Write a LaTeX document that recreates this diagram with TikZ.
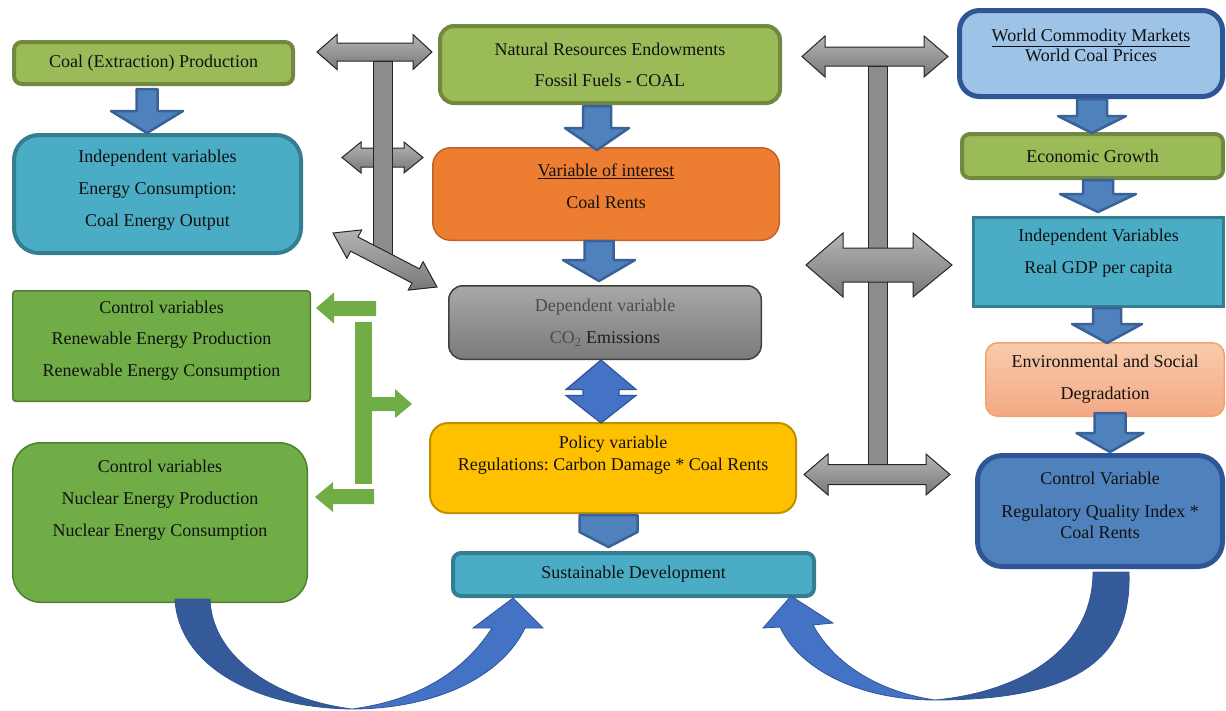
\documentclass[tikz,border=0pt]{standalone}
\usepackage{fontspec}
\setmainfont{Liberation Serif}
\frenchspacing
\usetikzlibrary{calc}
\definecolor{olive}{HTML}{9BBB59}
\definecolor{olived}{HTML}{71893F}
\definecolor{tealc}{HTML}{4BACC6}
\definecolor{teald}{HTML}{357D91}
\definecolor{grn}{HTML}{70AD47}
\definecolor{grnd}{HTML}{507E32}
\definecolor{orng}{HTML}{ED7D31}
\definecolor{orngd}{HTML}{C0622A}
\definecolor{goldc}{HTML}{FFC000}
\definecolor{goldd}{HTML}{BF9000}
\definecolor{ltblue}{HTML}{9DC3E6}
\definecolor{navy}{HTML}{2F5597}
\definecolor{salt}{HTML}{F8CBAD}
\definecolor{salb}{HTML}{F4A984}
\definecolor{sald}{HTML}{F3A26A}
\definecolor{blueb}{HTML}{4F81BD}
\definecolor{bluebd}{HTML}{3A6298}
\definecolor{bluec}{HTML}{4472C4}
\definecolor{bluedark}{HTML}{345A9A}
\definecolor{grayt}{HTML}{A8A8A8}
\definecolor{grayb}{HTML}{7A7A7A}
\definecolor{grayd}{HTML}{404040}
\definecolor{arrt}{HTML}{B4B4B4}
\definecolor{arrb}{HTML}{787878}
\definecolor{txtc}{HTML}{111111}
\newcommand\bdn[6]{\draw[bluearr] ({#1-#5},#2) -- ({#1+#5},#2) -- ({#1+#5},#3) -- ({#1+#6},#3) -- (#1,#4) -- ({#1-#6},#3) -- ({#1-#5},#3) -- cycle;}
\newcommand\hdbl[7]{\draw[grayarr] (#2,#1) -- (#4,{#1-#7}) -- (#4,{#1-#6}) -- (#5,{#1-#6}) -- (#5,{#1-#7}) -- (#3,#1) -- (#5,{#1+#7}) -- (#5,{#1+#6}) -- (#4,{#1+#6}) -- (#4,{#1+#7}) -- cycle;}
\begin{document}
\begin{tikzpicture}[x=1pt,y=-1pt,
  bx/.style={align=center, inner sep=0pt, text=txtc, font=\fontsize{18}{22}\selectfont},
  txt/.style={align=center, inner sep=0pt, text=txtc, font=\fontsize{18}{32}\selectfont},
  txtn/.style={align=center, inner sep=0pt, text=txtc, font=\fontsize{18}{21}\selectfont},
  olivebox/.style={bx, draw=olived, fill=olive, line width=4pt},
  tealbox/.style={bx, draw=teald, fill=tealc, line width=4pt},
  grnbox/.style={bx, draw=grnd, fill=grn, line width=1.5pt},
  bluearr/.style={fill=blueb, draw=bluebd, line width=2.5pt, line join=round},
  grayarr/.style={top color=arrt, bottom color=arrb, draw=black!85, line width=1pt},
  grayv/.style={fill=black!45, draw=black!85, line width=1pt},
  grnarr/.style={fill=grn}]
\useasboundingbox (0,0) rectangle (1226,710);

% ---- boxes ----
\node[olivebox, minimum width=279pt, minimum height=42pt, rounded corners=8pt] (coal) at (153.5,63) {Coal (Extraction) Production};
\node[tealbox, minimum width=287pt, minimum height=118pt, rounded corners=25pt] (indepL) at (157.5,194) {};
\node[txt] (indepL-t) at (157.5,190) {Independent variables\\Energy Consumption:\\Coal Energy Output};
\node[grnbox, minimum width=297.5pt, minimum height=110.5pt, rounded corners=3pt] (ctrlRen) at (161.5,346) {};
\node[txt, font=\fontsize{18}{31.5}\selectfont] (ctrlRen-t) at (161.5,340.5) {Control variables\\Renewable Energy Production\\Renewable Energy Consumption};
\node[grnbox, minimum width=294.5pt, minimum height=159.5pt, rounded corners=28pt] (ctrlNuc) at (160,522.5) {};
\node[txt] (ctrlNuc-t) at (160,500) {Control variables\\Nuclear Energy Production\\Nuclear Energy Consumption};

\node[olivebox, minimum width=340pt, minimum height=77pt, rounded corners=14pt, font=\fontsize{18}{31}\selectfont] (nre) at (610,64.5) {Natural Resources Endowments\\Fossil Fuels - COAL};
\node[bx, draw=orngd, fill=orng, line width=1.5pt, minimum width=346.5pt, minimum height=92.5pt, rounded corners=18pt] (voi) at (606,194) {};
\node[txt] (voi-t) at (606,186) {\underline{Variable of interest}\\Coal Rents};
\node[bx, draw=grayd, top color=grayt, bottom color=grayb, line width=1.5pt, minimum width=312.5pt, minimum height=73.5pt, rounded corners=14pt, text=black!70, font=\fontsize{18}{32}\selectfont] (dep) at (605,322.5) {Dependent variable\\CO\textsubscript{2} {\color{black!88}Emissions}};
\node[bx, draw=goldd, fill=goldc, line width=2pt, minimum width=366pt, minimum height=90pt, rounded corners=18pt] (pol) at (613,468) {};
\node[bx] (pol-t) at (613,455) {Policy variable\\Regulations: Carbon Damage * Coal Rents};
\node[tealbox, minimum width=361pt, minimum height=43pt, rounded corners=8pt] (sd) at (633.5,574.5) {Sustainable Development};

\node[bx, draw=navy, fill=ltblue, line width=5pt, minimum width=263pt, minimum height=86pt, rounded corners=20pt] (wcm) at (1091,53.5) {};
\node[bx, font=\fontsize{18}{20}\selectfont] (wcm-t) at (1091,45) {\underline{World Commodity Markets}\\World Coal Prices};
\node[olivebox, minimum width=261pt, minimum height=44pt, rounded corners=8pt] (eg) at (1092.5,156) {Economic Growth};
\node[bx, draw=teald, fill=tealc, line width=3pt, minimum width=250pt, minimum height=89pt] (ivR) at (1098.5,262) {};
\node[txt] (ivR-t) at (1098.5,253) {Independent Variables\\Real GDP per capita};
\node[bx, draw=sald, top color=salt, bottom color=salb, line width=1.5pt, minimum width=238.5pt, minimum height=73.5pt, rounded corners=12pt, font=\fontsize{18}{32}\selectfont] (env) at (1105,379.5) {Environmental and Social\\Degradation};
\node[bx, draw=navy, fill=blueb, line width=5pt, minimum width=245pt, minimum height=111pt, rounded corners=25pt] (cvR) at (1100,511) {};
\node[txtn] (cvR-t) at (1100,505) {Control Variable\\[12pt]Regulatory Quality Index *\\Coal Rents};

% ---- blue block arrows ----
\bdn{147}{89}{111}{133}{10.5}{36}
\bdn{597}{106}{128}{150}{14}{32}
\bdn{599}{241}{260}{281}{14.5}{36}
\bdn{1092}{99}{116}{133}{15}{34}
\bdn{1098}{180}{194}{212}{15}{38}
\bdn{1107}{308}{324}{343}{14}{35}
\bdn{1110}{413}{433}{452}{15.5}{33.5}
\draw[bluearr] (579.5,515) -- (637.5,515) -- (637.5,532) -- (608.5,547) -- (579.5,532) -- cycle;
\draw[fill=bluec, draw=navy, line width=1.2pt] (601,360) -- (636,389.5) -- (619,389.5) -- (619,395.5) -- (636,395.5) -- (601,423) -- (566,395.5) -- (583,395.5) -- (583,389.5) -- (566,389.5) -- cycle;

% ---- gray double arrows (left) ----
\hdbl{52}{317}{432}{337}{413}{9}{17.5}
\hdbl{157.5}{342}{423}{361}{404}{9.5}{15.5}
\draw[grayv] (373,61) rectangle (392,258);
\draw[grayarr] (333,233) -- (361.7,229.9) -- (358.0,237.0) -- (419.4,268.8) -- (423.1,261.7) -- (437,287) -- (408.3,290.1) -- (412.0,283.0) -- (350.6,251.2) -- (346.9,258.3) -- cycle;

% ---- gray double arrows (right) ----
\hdbl{56.5}{802}{948}{825}{924}{9.5}{20.5}
\draw[grayv] (868,66) rectangle (887,465);
\hdbl{265}{806}{952}{843}{913}{17}{32}
\hdbl{474.5}{804}{950}{828}{926}{10}{20.5}

% ---- green arrows ----
\fill[grnarr] (355,322) rectangle (372,484);
\fill[grnarr] (316,308) -- (334,292.5) -- (334,301) -- (376,301) -- (376,316) -- (334,316) -- (334,323.5) -- cycle;
\fill[grnarr] (315,497) -- (333,482) -- (333,489) -- (374,489) -- (374,504) -- (333,504) -- (333,512) -- cycle;
\fill[grnarr] (372,397) -- (395,397) -- (395,389) -- (412,404) -- (395,418) -- (395,411) -- (372,411) -- cycle;

% ---- curved arrows ----
\draw[fill=bluedark, draw=navy, line width=0.8pt] (175,599) .. controls (178,665) and (255,708) .. (352,709) .. controls (280,700) and (212,660) .. (210,599) -- cycle;
\draw[fill=bluec, draw=navy, line width=0.8pt] (352,709) .. controls (430,709) and (500,680) .. (525,628) -- (543,628) -- (513,598) -- (473,628) -- (492,628) .. controls (465,670) and (420,700) .. (352,709) -- cycle;
\draw[fill=bluedark, draw=navy, line width=0.8pt] (1129,572) .. controls (1132,660) and (1075,700) .. (935,700) .. controls (1020,692) and (1093,650) .. (1093,572) -- cycle;
\draw[fill=bluec, draw=navy, line width=0.8pt] (935,700) .. controls (860,700) and (800,670) .. (780,627) -- (763,628) -- (791,596) -- (833,623) -- (813,625) .. controls (835,665) and (880,692) .. (935,700) -- cycle;
\end{tikzpicture}
\end{document}
